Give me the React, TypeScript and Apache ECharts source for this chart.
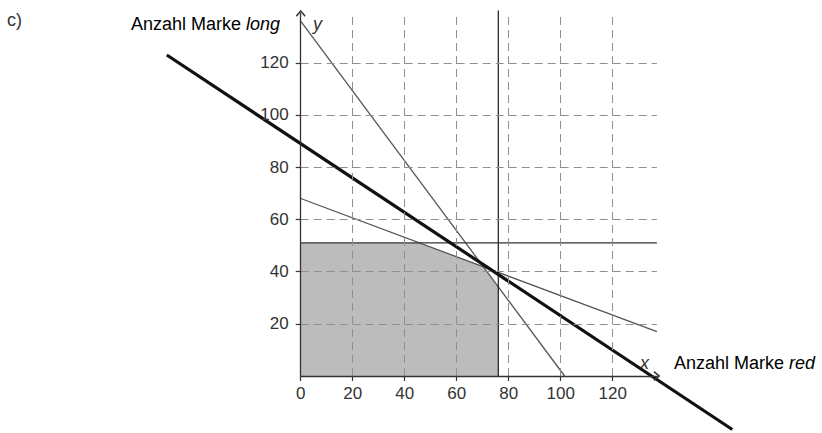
import React, { useEffect, useRef } from "react";
import * as echarts from "echarts";

// Tick labels / grid positions
const xTicks = [0, 20, 40, 60, 80, 100, 120];
const yTicks = [20, 40, 60, 80, 100, 120];
const gridX = [20, 40, 60, 80, 100, 120];
const gridY = [20, 40, 60, 80, 100, 120];

// Axis extents
const xMax = 137;
const yMax = 139;

// Constraint lines (end points)
const thickLine = [[-51.5, 123], [166, -20.5]];
const steepLine = [[0, 136], [101.5, 0]];
const shallowLine = [[0, 68], [137, 17]];
const xLimit = 76;
const yLimit = 51;
const verticalLine = [[xLimit, 0], [xLimit, 140]];
const horizontalLine = [[0, yLimit], [137, yLimit]];

type L = number[][];
const slope = (l: L) => (l[1][1] - l[0][1]) / (l[1][0] - l[0][0]);
const yAt = (l: L, x: number) => l[0][1] + slope(l) * (x - l[0][0]);
const xAt = (l: L, y: number) => l[0][0] + (y - l[0][1]) / slope(l);
const intersect = (a: L, b: L) => {
  const ma = slope(a), mb = slope(b);
  const ba = a[0][1] - ma * a[0][0];
  const bb = b[0][1] - mb * b[0][0];
  const x = (bb - ba) / (ma - mb);
  return [x, ma * x + ba];
};

const feasibleTop = [
  [0, yLimit],
  [xAt(shallowLine, yLimit), yLimit],
  intersect(shallowLine, steepLine),
  [xLimit, yAt(steepLine, xLimit)],
  [xLimit, 0],
];

// Layout
const W = 822;
const H = 433;
const G = { left: 300.7, top: 13.2, right: 165.1, bottom: 57 };
const pxX = (W - G.left - G.right) / xMax;
const pxY = (H - G.top - G.bottom) / yMax;
// Full-canvas grid with the same scale (for the line that runs past the axes)
const fullX = [-G.left / pxX, xMax + G.right / pxX];
const fullY = [-G.bottom / pxY, yMax + G.top / pxY];

const FONT = '"Liberation Sans", Arial, Helvetica, sans-serif';
const TEXT = "#333";
const chevron = "path://M5,0 L10,6 L8.8,7 L5,2.4 L1.2,7 L0,6 Z";

export default function App() {
  const ref = useRef<HTMLDivElement>(null);
  useEffect(() => {
    if (!ref.current) return;
    const chart = echarts.init(ref.current, null, { renderer: "svg" });
    const axisCommon = {
      type: "value" as const,
      min: 0,
      interval: 20,
      z: 10,
      gridIndex: 0,
      axisLine: {
        show: true,
        onZero: false,
        symbol: ["none", chevron],
        symbolSize: [10, 7],
        lineStyle: { color: "#333", width: 1.3 },
      },
      axisTick: { show: true, length: 5, lineStyle: { color: "#333", width: 1.2 } },
      splitLine: { show: false },
    };
    chart.setOption({
      animation: false,
      grid: [
        { ...G, containLabel: false, outerBoundsMode: "none" },
        { left: 0, top: 0, right: 0, bottom: 0, containLabel: false, outerBoundsMode: "none" },
      ],
      xAxis: [
        {
          ...axisCommon,
          max: xMax,
          axisTick: { ...axisCommon.axisTick, customValues: xTicks },
          axisLabel: {
            customValues: xTicks,
            margin: 9,
            color: TEXT,
            fontSize: 17,
            fontFamily: FONT,
          },
        },
        { type: "value", gridIndex: 1, min: fullX[0], max: fullX[1], show: false },
      ],
      yAxis: [
        {
          ...axisCommon,
          max: yMax,
          axisTick: { ...axisCommon.axisTick, customValues: yTicks },
          axisLabel: {
            customValues: yTicks,
            margin: 12,
            color: TEXT,
            fontSize: 17,
            fontFamily: FONT,
          },
        },
        { type: "value", gridIndex: 1, min: fullY[0], max: fullY[1], show: false },
      ],
      graphic: [
        {
          type: "text",
          x: 7,
          y: 20,
          style: { text: "c)", font: `18px ${FONT}`, fill: TEXT, verticalAlign: "middle" },
        },
        {
          type: "text",
          x: 280,
          y: 24,
          style: {
            text: "{a|Anzahl Marke }{b|long}",
            align: "right",
            verticalAlign: "middle",
            rich: {
              a: { fontSize: 18, fontFamily: FONT, color: TEXT },
              b: { fontSize: 18, fontFamily: FONT, color: TEXT, fontStyle: "italic" },
            },
          },
        },
        {
          type: "text",
          x: 313,
          y: 24,
          style: { text: "y", font: `italic 18px ${FONT}`, fill: TEXT, verticalAlign: "middle" },
        },
        {
          type: "text",
          x: 640,
          y: 363,
          style: { text: "x", font: `italic 18px ${FONT}`, fill: TEXT, verticalAlign: "middle" },
        },
        {
          type: "text",
          x: 674,
          y: 363,
          style: {
            text: "{a|Anzahl Marke }{b|red}",
            verticalAlign: "middle",
            rich: {
              a: { fontSize: 18, fontFamily: FONT, color: TEXT },
              b: { fontSize: 18, fontFamily: FONT, color: TEXT, fontStyle: "italic" },
            },
          },
        },
      ],
      series: [
        {
          type: "line",
          name: "feasible",
          data: feasibleTop,
          symbol: "none",
          z: 1,
          lineStyle: { width: 0 },
          areaStyle: { color: "#bcbcbc", opacity: 1, origin: "start" },
          silent: true,
        },
        {
          type: "line",
          name: "grid",
          data: [],
          z: 2,
          silent: true,
          markLine: {
            silent: true,
            symbol: "none",
            label: { show: false },
            lineStyle: { color: "#8f8f8f", width: 1, type: [8, 5] },
            data: [
              ...gridX.map((v) => ({ xAxis: v })),
              ...gridY.map((v) => ({ yAxis: v })),
            ],
          },
        },
        {
          type: "line",
          name: "steep",
          data: steepLine,
          symbol: "none",
          z: 3,
          clip: false,
          lineStyle: { color: "#555", width: 1.3 },
        },
        {
          type: "line",
          name: "shallow",
          data: shallowLine,
          symbol: "none",
          z: 3,
          clip: false,
          lineStyle: { color: "#555", width: 1.3 },
        },
        {
          type: "line",
          name: "vertical",
          data: verticalLine,
          symbol: "none",
          z: 3,
          clip: false,
          lineStyle: { color: "#1a1a1a", width: 1.2 },
        },
        {
          type: "line",
          name: "horizontal",
          data: horizontalLine,
          symbol: "none",
          z: 3,
          clip: false,
          lineStyle: { color: "#333", width: 1.2 },
        },
        {
          type: "line",
          name: "thick",
          xAxisIndex: 1,
          yAxisIndex: 1,
          data: thickLine,
          symbol: "none",
          z: 4,
          clip: false,
          lineStyle: { color: "#111", width: 3.2 },
        },
      ],
    });
    return () => chart.dispose();
  }, []);
  return (
    <div
      ref={ref}
      style={{ position: "absolute", left: 0, top: 0, width: W, height: H, background: "#fff" }}
    />
  );
}
